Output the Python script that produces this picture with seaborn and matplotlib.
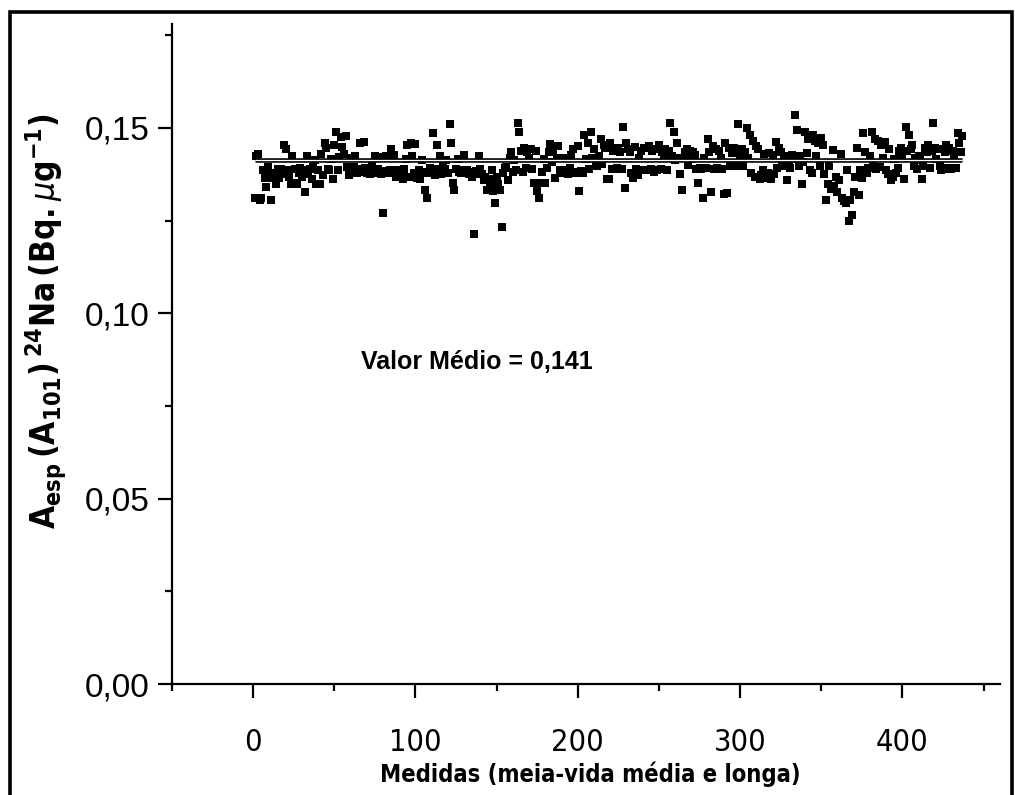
import numpy as np
import pandas as pd
import matplotlib
matplotlib.use("Agg")
import matplotlib.pyplot as plt
from matplotlib.patches import Rectangle
from matplotlib.ticker import MultipleLocator, FuncFormatter
import seaborn as sns

# ---------------- data ----------------
values_001_100 = [
    0.131, 0.1425, 0.143, 0.1305, 0.131, 0.1385, 0.1365, 0.134, 0.1395, 0.1375,
    0.1305, 0.1365, 0.1378, 0.1348, 0.139, 0.1365, 0.1388, 0.1375, 0.1455, 0.1443,
    0.1385, 0.1368, 0.1348, 0.1425, 0.1352, 0.1388, 0.1348, 0.1378, 0.1392, 0.1368,
    0.1385, 0.1327, 0.1425, 0.1375, 0.1388, 0.1362, 0.1395, 0.1412, 0.1348, 0.1385,
    0.1348, 0.143, 0.1372, 0.146, 0.1445, 0.1388, 0.1386, 0.1415, 0.1363, 0.1453,
    0.149, 0.1386, 0.1422, 0.1476, 0.1449, 0.143, 0.1478, 0.1395, 0.1374, 0.1418,
    0.138, 0.1395, 0.1425, 0.1378, 0.1388, 0.1458, 0.138, 0.1462, 0.1392, 0.1378,
    0.1386, 0.1375, 0.1398, 0.1383, 0.1425, 0.1378, 0.1388, 0.1422, 0.1376, 0.1269,
    0.1384, 0.1425, 0.1379, 0.1385, 0.1443, 0.1382, 0.1426, 0.1368, 0.1386, 0.1376,
    0.1372, 0.1362, 0.1388, 0.1415, 0.1455, 0.1368, 0.146, 0.1425, 0.1378, 0.1457,
]
values_101_200 = [
    0.1365, 0.1385, 0.1362, 0.1412, 0.1382, 0.1332, 0.131, 0.1378, 0.1392, 0.1385,
    0.1485, 0.1372, 0.1455, 0.1388, 0.1425, 0.1376, 0.1398, 0.1388, 0.1412, 0.1378,
    0.151, 0.146, 0.1352, 0.1332, 0.1388, 0.1415, 0.1382, 0.1378, 0.1386, 0.1428,
    0.1379, 0.1385, 0.1375, 0.1382, 0.1368, 0.1215, 0.1384, 0.1376, 0.1425, 0.1388,
    0.1375, 0.136, 0.1368, 0.1332, 0.1362, 0.1348, 0.1385, 0.133, 0.1296, 0.1368,
    0.1348, 0.1332, 0.1233, 0.1378, 0.1392, 0.1395, 0.1359, 0.1418, 0.1435, 0.1382,
    0.1412, 0.1386, 0.1512, 0.1488, 0.1438, 0.138, 0.1445, 0.1392, 0.1435, 0.1418,
    0.1442, 0.1388, 0.135, 0.1438, 0.133, 0.131, 0.1352, 0.1381, 0.1415, 0.135,
    0.1392, 0.1435, 0.1456, 0.1408, 0.1438, 0.1365, 0.1418, 0.1452, 0.1385, 0.1378,
    0.1382, 0.1418, 0.1386, 0.1375, 0.1392, 0.1428, 0.1443, 0.1382, 0.1378, 0.145,
]
values_201_300 = [
    0.133, 0.1384, 0.1378, 0.148, 0.1415, 0.146, 0.1388, 0.149, 0.1418, 0.1443,
    0.1402, 0.1398, 0.1425, 0.147, 0.1402, 0.1455, 0.1445, 0.1363, 0.1363, 0.1458,
    0.139, 0.1438, 0.1388, 0.1392, 0.1445, 0.1435, 0.1388, 0.1503, 0.1337, 0.1458,
    0.1442, 0.1435, 0.1378, 0.1365, 0.1448, 0.1388, 0.1372, 0.1418, 0.1438, 0.1385,
    0.1445, 0.1385, 0.1386, 0.1452, 0.1388, 0.1438, 0.1382, 0.1442, 0.1385, 0.1455,
    0.1388, 0.1435, 0.1418, 0.1442, 0.1386, 0.1438, 0.1512, 0.1425, 0.149, 0.1412,
    0.146, 0.1418, 0.1375, 0.1332, 0.1418, 0.1435, 0.1442, 0.140, 0.1438, 0.1415,
    0.1435, 0.1428, 0.1388, 0.135, 0.1392, 0.1388, 0.131, 0.1418, 0.1392, 0.147,
    0.1435, 0.1327, 0.145, 0.1388, 0.1442, 0.1392, 0.1438, 0.1418, 0.139, 0.1322,
    0.146, 0.1323, 0.1445, 0.1398, 0.1432, 0.1445, 0.1398, 0.1438, 0.151, 0.1425,
]
values_301_437 = [
    0.1442, 0.1398, 0.1435, 0.150, 0.1418, 0.148, 0.1378, 0.1465, 0.1368, 0.145,
    0.1443, 0.1362, 0.1372, 0.1385, 0.143, 0.1365, 0.1378, 0.1432, 0.1362, 0.1428,
    0.1375, 0.1462, 0.1392, 0.1445, 0.1435, 0.1398, 0.1412, 0.1425, 0.1359, 0.1405,
    0.1392, 0.1428, 0.1415, 0.1535, 0.1494, 0.1398, 0.1425, 0.1348, 0.1408, 0.149,
    0.1432, 0.147, 0.1385, 0.1378, 0.148, 0.1465, 0.1425, 0.1458, 0.1398, 0.1472,
    0.1455, 0.1375, 0.1305, 0.1348, 0.1398, 0.1335, 0.144, 0.1342, 0.1368, 0.1327,
    0.1358, 0.143, 0.131, 0.1302, 0.1296, 0.1385, 0.125, 0.1305, 0.1265, 0.1327,
    0.1368, 0.1445, 0.1318, 0.1385, 0.1365, 0.1485, 0.1435, 0.1378, 0.1392, 0.1425,
    0.149, 0.1398, 0.147, 0.1388, 0.1465, 0.1395, 0.1455, 0.1418, 0.1462, 0.1385,
    0.1375, 0.1442, 0.136, 0.1368, 0.1415, 0.1378, 0.1392, 0.1438, 0.1445, 0.1418,
    0.1363, 0.1503, 0.1438, 0.148, 0.1442, 0.1455, 0.1398, 0.1418, 0.1388, 0.1425,
    0.1412, 0.1363, 0.1398, 0.1445, 0.1435, 0.1455, 0.1392, 0.1438, 0.1512, 0.1445,
    0.1415, 0.1442, 0.1398, 0.1385, 0.1388, 0.1435, 0.1455, 0.1392, 0.1445, 0.1388,
    0.1438, 0.1418, 0.1392, 0.1485, 0.146, 0.1435, 0.1478,
]
activity = values_001_100 + values_101_200 + values_201_300 + values_301_437
measure = list(range(1, len(activity) + 1))

mean_value = 0.1412          # "Valor Médio" line

x_ticks = [0, 100, 200, 300, 400]
y_ticks = [0.00, 0.05, 0.10, 0.15]

x_label = "Medidas (meia-vida média e longa)"
y_label = r"$\mathbf{A_{esp}\,(A_{101})\,^{24}Na\,(Bq.}\mathit{\mu}\mathbf{g^{-1})}$"
annotation = "Valor Médio = 0,141"

df = pd.DataFrame({"Medida": measure, "A": activity})

# ---------------- style ----------------
sns.set_theme(style="ticks")

base_font = "Liberation Sans"
cond_font = "DejaVu Sans"

plt.rcParams["font.family"] = [base_font, "DejaVu Sans"]
plt.rcParams["text.color"] = "black"
plt.rcParams["axes.labelcolor"] = "black"
plt.rcParams["xtick.color"] = "black"
plt.rcParams["ytick.color"] = "black"
plt.rcParams["mathtext.fontset"] = "custom"
plt.rcParams["mathtext.rm"] = "DejaVu Sans:stretch=condensed"
plt.rcParams["mathtext.bf"] = "DejaVu Sans:weight=bold:stretch=condensed"
plt.rcParams["mathtext.it"] = "DejaVu Sans:style=italic:stretch=condensed"

fig = plt.figure(figsize=(10.15, 7.95), dpi=100)
fig.patch.set_facecolor("white")
ax = fig.add_axes([0.1695, 0.1396, 0.8155, 0.8302])
ax.set_facecolor("white")

sns.scatterplot(data=df, x="Medida", y="A", ax=ax, marker="s", s=30,
                color="black", edgecolor="black", linewidth=0, legend=False,
                zorder=3)

x0, x1 = min(measure), max(measure)
# mean line: double black line (thick black with thin white core)
ax.hlines(mean_value, x0, x1, colors="black", linewidth=3.3, zorder=4)
ax.hlines(mean_value, x0, x1, colors="white", linewidth=0.9, zorder=5)

ax.set_xlim(-50, 460)
ax.set_ylim(0, 0.178)

ax.xaxis.set_minor_locator(MultipleLocator(50))
ax.yaxis.set_minor_locator(MultipleLocator(0.025))
ax.set_xticks(x_ticks)
ax.set_yticks(y_ticks)
ax.yaxis.set_major_formatter(FuncFormatter(lambda v, p: f"{v:.2f}".replace(".", ",")))
ax.xaxis.set_major_formatter(FuncFormatter(lambda v, p: f"{v:.0f}"))

for s in ["top", "right"]:
    ax.spines[s].set_visible(False)
for s in ["left", "bottom"]:
    ax.spines[s].set_linewidth(1.6)
    ax.spines[s].set_color("black")

ax.tick_params(axis="both", which="major", direction="out", length=10,
               width=1.6, color="black")
ax.tick_params(axis="both", which="minor", direction="out", length=5,
               width=1.6, color="black")
ax.tick_params(axis="x", which="major", pad=22)
ax.tick_params(axis="y", which="major", pad=6)
for lab in ax.get_xticklabels():
    lab.set_fontfamily(cond_font)
    lab.set_fontstretch("condensed")
    lab.set_fontsize(22)
for lab in ax.get_yticklabels():
    lab.set_fontfamily(base_font)
    lab.set_fontsize(24)

ax.set_xlabel(x_label, fontsize=17, fontweight="bold", fontfamily=cond_font,
              fontstretch="condensed")
ax.xaxis.set_label_coords(0.505, -0.118)
ax.set_ylabel(y_label, fontsize=24)
ax.yaxis.set_label_coords(-0.124, 0.55)

ax.text(66.5, 0.0868, annotation, fontsize=18, fontweight="bold",
        fontfamily=base_font, ha="left", va="center", color="black")

# black frame around the figure
frame = Rectangle((0.0099, -0.05), 0.9872, 1.0352, transform=fig.transFigure,
                  fill=False, edgecolor="black", linewidth=2.6, zorder=10)
fig.patches.append(frame)

fig.savefig("out.png", dpi=100, facecolor="white")
